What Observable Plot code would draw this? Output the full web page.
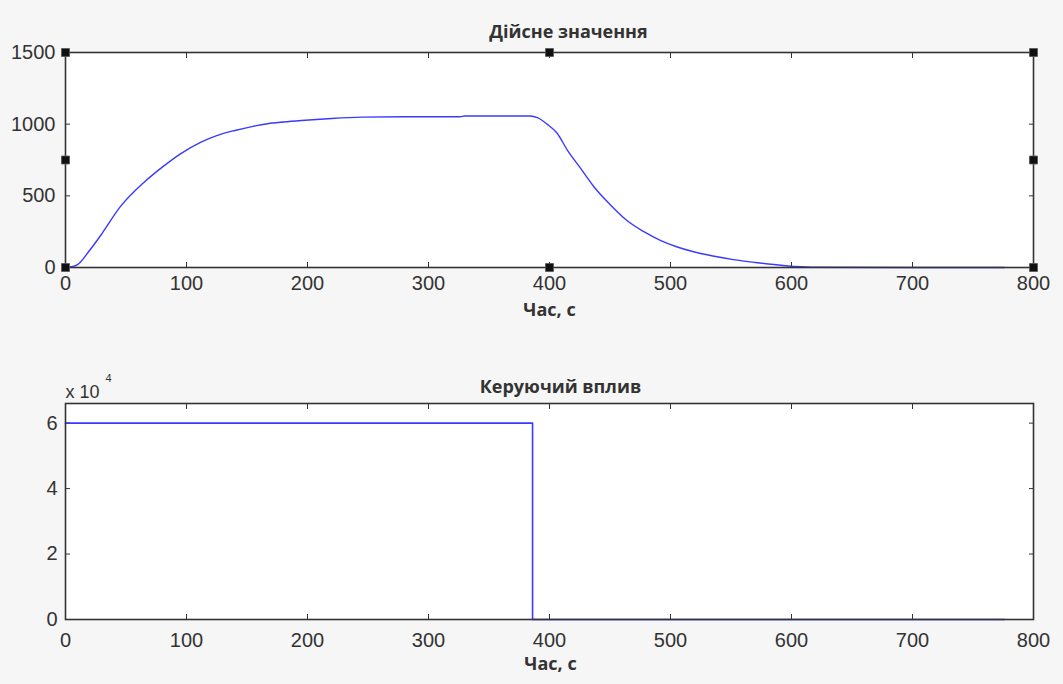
<!DOCTYPE html>
<html><head><meta charset="utf-8">
<script src="https://cdn.jsdelivr.net/npm/d3@7"></script>
<script src="https://cdn.jsdelivr.net/npm/@observablehq/plot@0.6"></script>
<style>
body{margin:0;background:#f6f6f6;font-family:"Liberation Sans",Arial,sans-serif;}
#chart{width:1063px;height:684px;}
svg{display:block;}
</style></head><body><div id="chart"></div>
<script>
const title1 = "Дійсне значення";
const title2 = "Керуючий вплив";
const xLabel = "Час, с";
const exponentBase = "x 10";
const exponentPower = "4";

const time1 = [0,5,10,20,30,45,65,80,95,112,125,140,155,167,180,195,220,245,280,326,330,360,384,390,398,406,415,425,437,450,464,478,492,505,519,535,552,570,593,616,700,776];
const value1 = [0,5,20,120,235,421,595,700,793,875,920,956,985,1003,1015,1026,1040,1049,1052,1052,1057,1057,1057,1045,1000,940,816,700,560,440,328,250,188,145,110,80,55,35,14,2,0,0];

const time2 = [0,386,776];
const control2 = [60000,0,0];

const xTicks = [0,100,200,300,400,500,600,700,800];
const yTicks1 = [0,500,1000,1500];
const yTicks2 = [0,20000,40000,60000];

const handleX = [0,400,800,0,800,0,400,800];
const handleY = [1500,1500,1500,750,750,0,0,0];

const series1 = time1.map((t,i)=>({t, v:value1[i]}));
const series2 = time2.map((t,i)=>({t, v:control2[i]}));
const handles = handleX.map((x,i)=>({x, y:handleY[i]}));

const ink = "#333";
const lineColor = "#3a3aff";
const titleFont = "'Open Sans', 'Liberation Sans', sans-serif";

function boxMarks(yTicks, yFmt, pad) {
  return [
    Plot.frame({fill:"white", stroke:null}),
    Plot.axisX(xTicks, {anchor:"bottom", tickSize:-5, text:null, label:null, stroke:ink}),
    Plot.axisX(xTicks, {anchor:"top", tickSize:-5, text:null, label:null, stroke:ink}),
    Plot.axisY(yTicks, {anchor:"left", tickSize:-5, text:null, label:null, stroke:ink}),
    Plot.axisY(yTicks, {anchor:"right", tickSize:-5, text:null, label:null, stroke:ink}),
    Plot.axisY(yTicks, {anchor:"left", tickSize:0, tickPadding:pad, tickFormat:yFmt, label:null, fill:ink})
  ];
}

const style = {fontFamily:"'Liberation Sans', Arial, sans-serif", fontSize:"20px", background:"transparent", overflow:"visible"};

const topChart = Plot.plot({
  width:1063, height:330,
  marginTop:52, marginBottom:63, marginLeft:65, marginRight:30,
  style,
  x:{domain:[0,800], axis:null},
  y:{domain:[0,1500], axis:null},
  marks:[
    ...boxMarks(yTicks1, d=>String(d), 10),
    Plot.line(series1, {x:"t", y:"v", stroke:lineColor, strokeWidth:1.4, curve:"monotone-x"}),
    Plot.frame({stroke:ink, strokeWidth:1.6}),
    Plot.axisX(xTicks, {anchor:"bottom", tickSize:0, tickPadding:8, label:null, fill:ink}),
    Plot.dot(handles, {x:"x", y:"y", symbol:"square", r:4.5, fill:"#111", stroke:"#555", strokeWidth:0.8}),
    Plot.text([title1], {frameAnchor:"top", dy:-27, dx:19, fontWeight:"bold", fontSize:18, fontFamily:titleFont, fill:ink}),
    Plot.text([xLabel], {frameAnchor:"bottom", dy:48, fontWeight:"bold", fontSize:18, fontFamily:titleFont, fill:ink})
  ]
});

const bottomChart = Plot.plot({
  width:1063, height:354,
  marginTop:73, marginBottom:65, marginLeft:65, marginRight:30,
  style,
  x:{domain:[0,800], axis:null},
  y:{domain:[0,66000], axis:null},
  marks:[
    ...boxMarks(yTicks2, d=>String(d/10000), 8),
    Plot.line(series2, {x:"t", y:"v", stroke:lineColor, strokeWidth:1.6, curve:"step-after"}),
    Plot.frame({stroke:ink, strokeWidth:1.6}),
    Plot.axisX(xTicks, {anchor:"bottom", tickSize:0, tickPadding:13, label:null, fill:ink}),
    Plot.text([exponentBase], {frameAnchor:"top-left", textAnchor:"start", dy:-18, dx:0, fontSize:18, fill:ink}),
    Plot.text([exponentPower], {frameAnchor:"top-left", textAnchor:"start", dy:-29, dx:40, fontSize:11, fill:ink}),
    Plot.text([title2], {frameAnchor:"top", dy:-23, dx:11, fontWeight:"bold", fontSize:18, fontFamily:titleFont, fill:ink}),
    Plot.text([xLabel], {frameAnchor:"bottom", dy:50, dx:1, fontWeight:"bold", fontSize:18, fontFamily:titleFont, fill:ink})
  ]
});

const root = document.getElementById("chart");
root.appendChild(topChart);
root.appendChild(bottomChart);
</script></body></html>
